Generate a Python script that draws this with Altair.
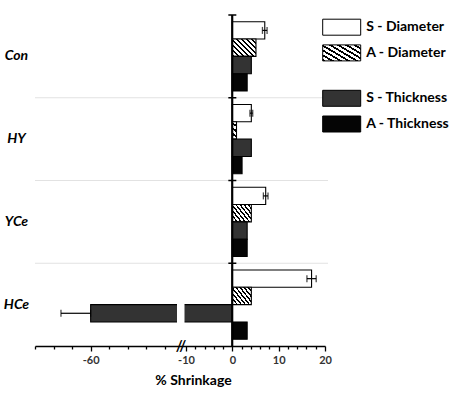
import altair as alt
import pandas as pd

# ---------------- data ----------------
categories = ["Con", "HY", "YCe", "HCe"]
series = ["S - Diameter", "A - Diameter", "S - Thickness", "A - Thickness"]
s_diameter = [7.0, 4.1, 7.2, 17.1]
a_diameter = [5.1, 0.9, 4.1, 4.1]
s_thickness = [4.1, 4.1, 3.2, -60.0]
a_thickness = [3.2, 2.1, 3.2, 3.2]
s_diameter_err = [0.5, 0.3, 0.5, 1.0]
s_thickness_err = [0.0, 0.0, 0.0, 16.0]
a_diameter_err = [0.0, 0.0, 0.0, 0.0]
a_thickness_err = [0.0, 0.0, 0.0, 0.0]

label_values = [-60, -10, 0, 10, 20]
left_ticks = [-90, -80, -70, -60, -50, -40, -30, -20]
right_ticks = [-10, -8, -6, -4, -2, 0, 2, 4, 6, 8, 10, 12, 14, 16, 18, 20]

# broken axis: left segment [-90,-14], right segment [-10,20]
x_domain = [-90, -14, -10, 20]
gap_lo, gap_hi = -13.1, -11.1   # white cut in the long bar
slash_at = -12

W, H = 290, 331
x_range = [0, 141, 151, W]

values = [s_diameter, a_diameter, s_thickness, a_thickness]
errs = [s_diameter_err, a_diameter_err, s_thickness_err, a_thickness_err]
rows = []
for ci, c in enumerate(categories):
    for si, s in enumerate(series):
        v = values[si][ci]
        e = errs[si][ci]
        rows.append({"cat": c, "series": s, "value": v, "err": e,
                     "lo": v - e, "hi": (v + e) if v >= 0 else v})
df = pd.DataFrame(rows)
df_err = df[df["err"] > 0]
df_gap = pd.DataFrame([{"cat": "HCe", "series": "S - Thickness", "a": gap_lo, "b": gap_hi}])
df_cat = pd.DataFrame({"cat": categories})
df_grid = pd.DataFrame({"cat": categories[1:]})

FONT = "Lato"

# hatch gradient
N = 8
stops = []
for k in range(N):
    a = k / N
    b = a + 0.42 / N
    c = (k + 1) / N
    stops += [f"{{offset:{a:.4f},color:'black'}}", f"{{offset:{b:.4f},color:'black'}}",
              f"{{offset:{b:.4f},color:'white'}}", f"{{offset:{c:.4f},color:'white'}}"]
grad = "{gradient:'linear',x1:0,y1:1,x2:1.135,y2:0.19,stops:[" + ",".join(stops) + "]}"

xscale = alt.Scale(domain=x_domain, range=x_range, nice=False, zero=False)
major_test = "indexof([-60,-10,0,10,20], datum.value) >= 0"
xaxis = alt.Axis(
    values=left_ticks + right_ticks,
    labelExpr=f"{major_test} ? '' + datum.value : ''",
    tickSize={"condition": {"test": major_test, "value": 5}, "value": 3},
    title="% Shrinkage", titleFont=FONT, titleFontSize=14, titleFontWeight="bold",
    titleColor="black", titleX=158, titlePadding=8,
    labelFont=FONT, labelFontSize=11, labelFontWeight="bold", labelColor="#333333",
    labelPadding=3, labelFlush=False, labelOverlap=False,
    domainColor="black", domainWidth=1.5, tickColor="black", tickWidth=1.3, grid=False,
)
yscale = alt.Scale(domain=categories, paddingInner=0, paddingOuter=0)
yaxis = alt.Axis(title=None, domain=False, ticks=False, tickSize=0, labelAlign="center",
                 labelPadding=19, labelFont=FONT, labelFontSize=14, labelFontWeight="bold",
                 labelFontStyle="italic", labelColor="black", grid=False)
yoff = alt.YOffset("series:N", scale=alt.Scale(domain=series, paddingInner=0, paddingOuter=0.39))


def Y(bp=None):
    if bp is None:
        return alt.Y("cat:N", scale=yscale, axis=yaxis)
    return alt.Y("cat:N", scale=yscale, axis=yaxis, bandPosition=bp)


def legend(ly):
    return alt.Legend(title=None, orient="none", legendX=298.2, legendY=ly,
                      symbolType="M-2.375,-1H2.375V1H-2.375Z", symbolSize=256,
                      symbolStrokeColor="black", symbolStrokeWidth=1, symbolOpacity=1,
                      labelFont=FONT, labelFontSize=14, labelFontWeight="bold",
                      labelColor="black", labelOffset=16, rowPadding=4.7, padding=0)


grid = alt.Chart(df_grid).mark_rule(color="#e2e2e2", strokeWidth=1).encode(
    y=Y(0), x=alt.value(0), x2=alt.value(W + 3))

bars_d = alt.Chart(df).transform_filter(
    alt.FieldOneOfPredicate(field="series", oneOf=series[:2])
).mark_bar(stroke="black", strokeWidth=1.1).encode(
    y=Y(), yOffset=yoff,
    x=alt.X("value:Q", scale=xscale, axis=xaxis),
    x2=alt.X2(datum=0),
    fill=alt.Fill("series:N", scale=alt.Scale(domain=series[:2], range=["white", alt.ExprRef(grad)]),
                  legend=legend(3.7)),
)
bars_t = alt.Chart(df).transform_filter(
    alt.FieldOneOfPredicate(field="series", oneOf=series[2:])
).mark_bar(stroke="black", strokeWidth=1.1).encode(
    y=Y(), yOffset=yoff,
    x=alt.X("value:Q", scale=xscale, axis=xaxis),
    x2=alt.X2(datum=0),
    fill=alt.Fill("series:N", scale=alt.Scale(domain=series[2:], range=["#333333", "#050505"]),
                  legend=legend(74.8)),
)

gap = alt.Chart(df_gap).mark_bar(fill="white", stroke="white", strokeWidth=2.5).encode(
    y=Y(), yOffset=yoff, x=alt.X("a:Q", scale=xscale, axis=xaxis), x2="b:Q")

err_rule = alt.Chart(df_err).mark_rule(color="black", strokeWidth=1.2).encode(
    y=Y(), yOffset=yoff, x=alt.X("lo:Q", scale=xscale, axis=xaxis), x2="hi:Q")
err_cap = alt.Chart(df_err).transform_fold(["lo", "hi"], as_=["k", "v"]).mark_tick(
    color="black", thickness=1.3, size=7, orient="vertical").encode(
    y=Y(), yOffset=yoff, x=alt.X("v:Q", scale=xscale, axis=xaxis))

zero = alt.Chart(df_cat).mark_rule(color="black", strokeWidth=1.5).encode(
    x=alt.X(datum=0, scale=xscale, axis=xaxis), y=alt.value(0), y2=alt.value(H))
zero_ticks = alt.Chart(df_cat).mark_rule(color="black", strokeWidth=1.5, xOffset=-4, x2Offset=4).encode(
    y=Y(0), x=alt.X(datum=0, scale=xscale, axis=xaxis), x2=alt.X2(datum=0))

slash = alt.Chart(df_cat.head(1)).mark_text(text="//", font=FONT, fontSize=15, fontWeight="bold",
                                             color="black", baseline="middle", align="center").encode(
    x=alt.X(datum=slash_at, scale=xscale, axis=xaxis), y=alt.value(H))

chart = alt.layer(grid, bars_d, bars_t, gap, err_rule, err_cap, zero, zero_ticks, slash).resolve_scale(
    fill="independent"
).properties(
    width=W, height=H,
    autosize=alt.AutoSizeParams(type="none"),
    padding={"left": 35, "top": 15, "right": 454 - 35 - W, "bottom": 396 - 15 - H},
).configure(background="white").configure_view(stroke=None)

chart.save("out.html", embed_options={"renderer": "svg", "actions": False})
